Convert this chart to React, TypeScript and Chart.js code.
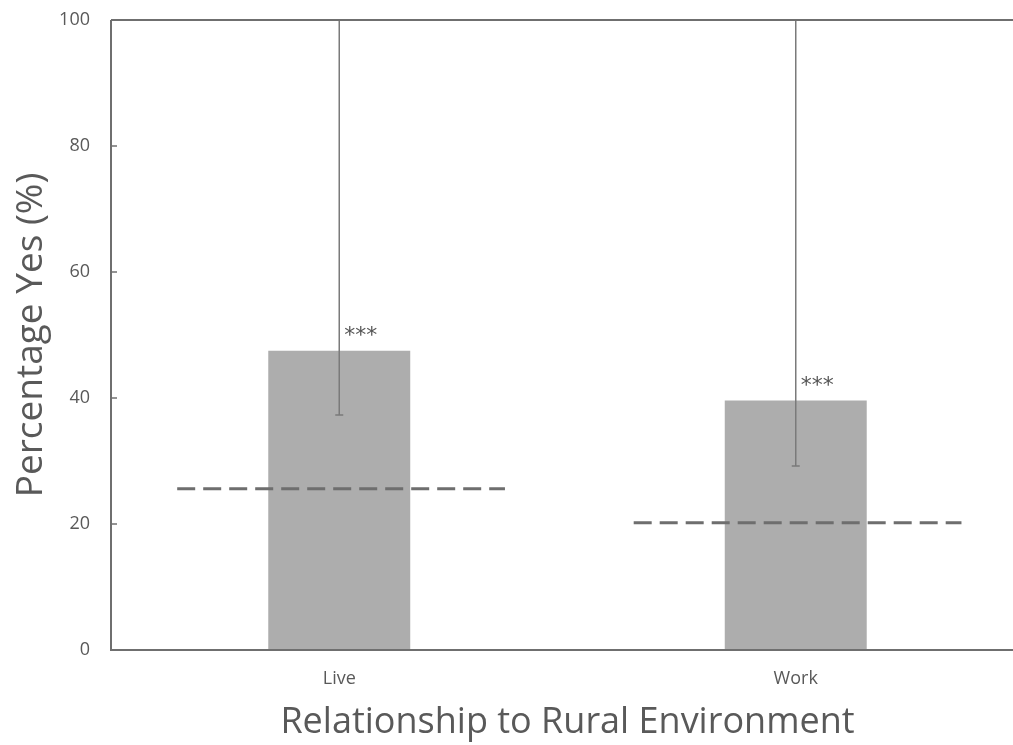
import React, { useEffect, useRef } from 'react';
import { Chart, registerables } from 'chart.js';

Chart.register(...registerables);

// ---- data ----
const categories = ['Live', 'Work'];
const percentYes = [47.5, 39.6];
const errorLow = [37.3, 29.2];
const errorHigh = [100, 100];
const referenceLevel = [25.6, 20.2];
const significance = ['***', '***'];
const yTickValues = [0, 20, 40, 60, 80, 100];
const xTitle = 'Relationship to Rural Environment';
const yTitle = 'Percentage Yes (%)';

// ---- style ----
const FONT = '"Open Sans", "Noto Sans", sans-serif';
const TEXT = '#595959';
const AXIS = '#6f6f6f';
const BAR = '#adadad';
const DASH = '#6e6e6e';
const REF_LEFT = -0.355;
const REF_RIGHT = 0.363;

const overlayPlugin = {
  id: 'overlay',
  afterDatasetsDraw(chart: any) {
    const ctx = chart.ctx;
    const y = chart.scales.y;
    const a = chart.chartArea;
    const meta = chart.getDatasetMeta(0);
    ctx.save();
    meta.data.forEach((el: any, i: number) => {
      const x = el.x;
      const lo = y.getPixelForValue(errorLow[i]);
      const hi = y.getPixelForValue(errorHigh[i]);
      ctx.strokeStyle = '#7a7a7a';
      ctx.lineWidth = 1.5;
      ctx.beginPath();
      ctx.moveTo(x, lo);
      ctx.lineTo(x, hi);
      ctx.moveTo(x - 4, lo);
      ctx.lineTo(x + 4, lo);
      ctx.moveTo(x - 4, hi);
      ctx.lineTo(x + 4, hi);
      ctx.stroke();
      ctx.fillStyle = '#555555';
      ctx.font = `22px "DejaVu Sans", sans-serif`;
      ctx.textAlign = 'left';
      ctx.textBaseline = 'alphabetic';
      ctx.fillText(significance[i], x + 5, el.y - 9);
    });
    // frame
    ctx.strokeStyle = AXIS;
    ctx.lineWidth = 2;
    ctx.beginPath();
    ctx.moveTo(a.left, a.top);
    ctx.lineTo(a.right, a.top);
    ctx.moveTo(a.left, a.top);
    ctx.lineTo(a.left, a.bottom);
    ctx.lineTo(a.right, a.bottom);
    ctx.stroke();
    ctx.lineWidth = 1.5;
    yTickValues.forEach((v) => {
      const py = y.getPixelForValue(v);
      ctx.beginPath();
      ctx.moveTo(a.left, py);
      ctx.lineTo(a.left + 6, py);
      ctx.stroke();
    });
    // titles
    ctx.fillStyle = TEXT;
    ctx.font = `36px ${FONT}`;
    ctx.textAlign = 'center';
    ctx.textBaseline = 'alphabetic';
    ctx.fillText(xTitle, (a.left + a.right) / 2, 733);
    ctx.font = `37px ${FONT}`;
    ctx.translate(42, (a.top + a.bottom) / 2);
    ctx.rotate(-Math.PI / 2);
    ctx.fillText(yTitle, 0, 0);
    ctx.restore();
  },
};

export default function App() {
  const ref = useRef<HTMLCanvasElement | null>(null);
  useEffect(() => {
    if (!ref.current) return;
    const lineSets = referenceLevel.map((v, i) => ({
      type: 'line' as const,
      xAxisID: 'x2',
      data: [
        { x: i + REF_LEFT, y: v },
        { x: i + REF_RIGHT, y: v },
      ],
      borderColor: DASH,
      borderWidth: 3,
      borderDash: [18, 8],
      pointRadius: 0,
      fill: false,
      order: 0,
    }));
    const chart = new Chart(ref.current, {
      type: 'bar',
      data: {
        labels: categories,
        datasets: [
          {
            type: 'bar',
            data: percentYes,
            backgroundColor: BAR,
            borderWidth: 0,
            grouped: false,
            barPercentage: 0.311,
            categoryPercentage: 1,
            order: 1,
          } as any,
          ...(lineSets as any[]),
        ],
      },
      options: {
        animation: false,
        responsive: false,
        layout: { padding: { top: 20, left: 0, right: 0, bottom: 0 } },
        plugins: { legend: { display: false }, tooltip: { enabled: false } },
        scales: {
          x: {
            type: 'category',
            offset: true,
            grid: { display: false, drawTicks: false },
            border: { display: false },
            ticks: { color: TEXT, font: { family: FONT, size: 18 }, padding: 18 },
            afterFit: (s: any) => {
              s.height = 95;
              s.paddingLeft = 0;
              s.paddingRight = 0;
            },
          },
          x2: { type: 'linear', min: -0.5, max: 1.5, offset: false, display: false },
          y: {
            type: 'linear',
            min: 0,
            max: 100,
            grid: { display: false, drawTicks: false },
            border: { display: false },
            ticks: { color: TEXT, font: { family: FONT, size: 18 }, padding: 21 },
            afterBuildTicks: (s: any) => {
              s.ticks = yTickValues.map((v) => ({ value: v }));
            },
            afterFit: (s: any) => {
              s.width = 111;
              s.paddingTop = 0;
              s.paddingBottom = 0;
            },
          },
        },
      },
      plugins: [overlayPlugin],
    });
    return () => chart.destroy();
  }, []);
  return (
    <div
      style={{
        position: 'fixed',
        left: 0,
        top: 0,
        width: 1013,
        height: 745,
        overflow: 'hidden',
        background: '#ffffff',
      }}
    >
      <canvas ref={ref} width={1024} height={745} style={{ display: 'block' }} />
    </div>
  );
}
